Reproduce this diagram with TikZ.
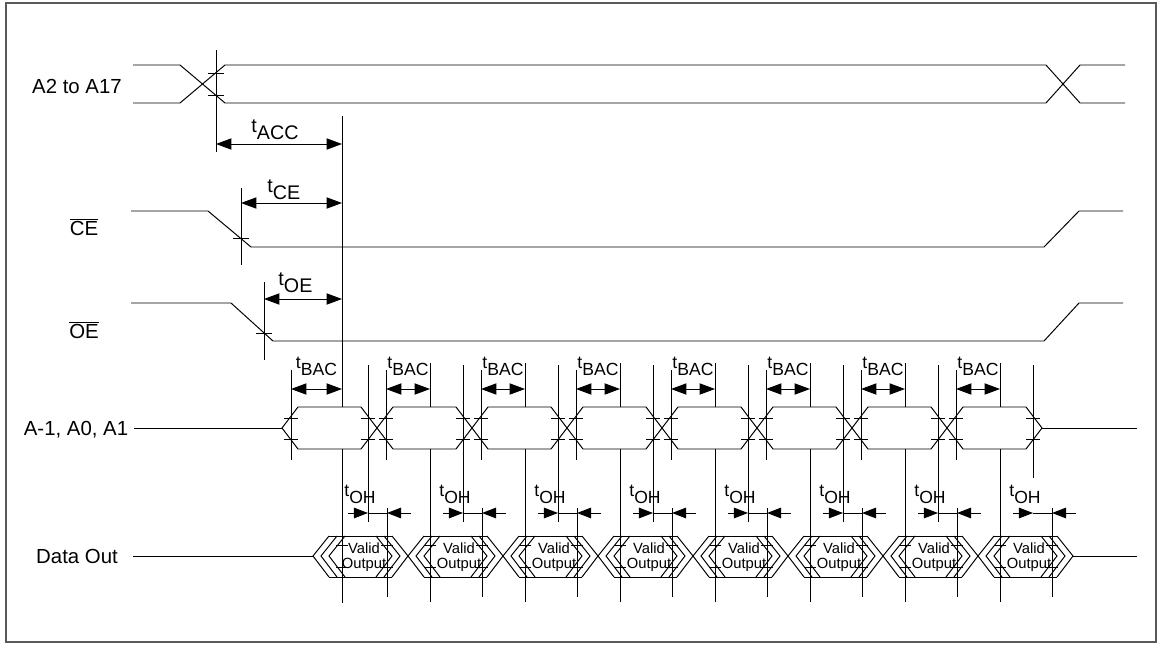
\documentclass[tikz,border=0pt]{standalone}
\usepackage{fontspec}
\setmainfont{Liberation Sans}
\usetikzlibrary{arrows.meta}
\usetikzlibrary{math}

\tikzstyle{twoway} = [{Triangle[length=11pt,width=8pt]}-{Triangle[length=11pt,width=8pt]}]
\tikzstyle{oneway} = [-{Triangle[length=10pt,width=7.5pt]}]
\tikzstyle{siglbl} = [font=\fontsize{14.5}{17}\selectfont, inner sep=0pt]
\tikzstyle{tlbl} = [font=\fontsize{14}{16}\selectfont, inner sep=0pt, anchor=base west]
\tikzstyle{slbl} = [font=\fontsize{12.5}{14}\selectfont, inner sep=0pt, anchor=base]
\tikzstyle{vout} = [font=\fontsize{10.5}{10.5}\selectfont, inner sep=0pt, align=center]
\newcommand{\tsub}[1]{t\raisebox{-5pt}{#1}}

\begin{document}
\begin{tikzpicture}[x=0.025cm, y=-0.025cm, line width=0.7pt]

  \useasboundingbox (0,0) rectangle (1159,645);
  \draw[gray!70!black, line width=1.4pt] (6,3) rectangle (1156,642);

  % signal names
  \node[siglbl] (nA) at (77,86) {A2 to A17};
  \node[siglbl] (nCE) at (84,227) {$\overline{\mbox{CE}}$};
  \node[siglbl] (nOE) at (84,330) {$\overline{\mbox{OE}}$};
  \node[siglbl] (nAlow) at (76,430) {A-1, A0, A1};
  \node[siglbl] (nD) at (77,556) {Data Out};

  % address bus
  \draw (133,65) -- (180,65) -- (225,103) -- (1046,103) -- (1080,65) -- (1125,65);
  \draw (133,103) -- (180,103) -- (225,65) -- (1046,65) -- (1080,103) -- (1125,103);
  % CE and OE
  \draw (131,211) -- (208,211) -- (251,247) -- (1044,247) -- (1079,211) -- (1123,211);
  \draw (131,303) -- (231,303) -- (273,341) -- (1044,341) -- (1079,303) -- (1123,303);

  % reference lines
  \draw (216,50) -- (216,152);
  \draw (208,73) -- (224,73);
  \draw (208,95) -- (224,95);
  \draw (241,188) -- (241,265);
  \draw (233,238) -- (249,238);
  \draw (264,282) -- (264,360);
  \draw (256,333) -- (272,333);
  \draw (342,116) -- (342,407);
  \draw (342,449) -- (342,603);

  \draw[twoway] (216,144) -- (342,144);
  \node[tlbl] (tacc) at (251,132) {\tsub{ACC}};
  \draw[twoway] (241,203) -- (342,203);
  \node[tlbl] (tce) at (267,192) {\tsub{CE}};
  \draw[twoway] (264,299) -- (342,299);
  \node[tlbl] (toe) at (278,285) {\tsub{OE}};

  % A-1, A0, A1 and Data Out
  \draw (134,428) -- (282,428);
  \draw (1042,428) -- (1137,428);
  \draw (133,556) -- (313,556);
  \draw (1073,556) -- (1137,556);

  \foreach \i in {0,...,7}{
    \tikzmath{\bL = 282+95*\i; \bR = \bL+95; \vH = \bR-9; \vE = 387+95*\i;
      \dL = 313+95*\i; \dR = \dL+95;
      \vT = (\i==0) ? 342 : (335+95*\i);
      \hEnd = (\i==7) ? 478 : 522;}
    \draw (\bL,428) -- (\bL+16,407) -- (\bR-16,407) -- (\bR,428) -- (\bR-16,449) -- (\bL+16,449) -- cycle;
    \draw (\bL+9,370) -- (\bL+9,460);
    \draw (\vH,365) -- (\vH,\hEnd);
    \foreach \yy in {418,439}{
      \draw (\bL+2,\yy) -- (\bL+16,\yy);
      \draw (\bR-16,\yy) -- (\bR-2,\yy);
    }
    \ifnum\i>0
      \draw (\vT,363) -- (\vT,407);
      \draw (\vT,449) -- (\vT,602);
    \fi
    \draw[twoway] (\bL+9,389) -- (\vT,389);
    \node[slbl] (bac\i) at ({(\bL+9+\vT)/2},368) {\tsub{BAC}};

    \draw (\vE,508) -- (\vE,597);
    \draw[oneway] (\vH-20,513) -- (\vH,513);
    \draw (\vH,513) -- (\vE,513);
    \draw[oneway] (\vE+24,513) -- (\vE,513);
    \node[slbl] (oh\i) at (\vH-8,496) {\tsub{OH}};

    \draw (\dL+16,536) -- (\dR-16,536);
    \draw (\dL+16,577) -- (\dR-16,577);
    \foreach \k in {0,8,16}{
      \draw (\dL+16+\k,536) -- (\dL+\k,556) -- (\dL+16+\k,577);
      \draw (\dR-16-\k,536) -- (\dR-\k,556) -- (\dR-16-\k,577);
    }
    \foreach \yy in {545,567}{
      \draw (\vT-6,\yy) -- (\vT+6,\yy);
      \draw (\vE-6,\yy) -- (\vE+6,\yy);
    }
    \node[vout] (vo\i) at (\dL+51,557) {Valid\\Output};
  }

\end{tikzpicture}
\end{document}
